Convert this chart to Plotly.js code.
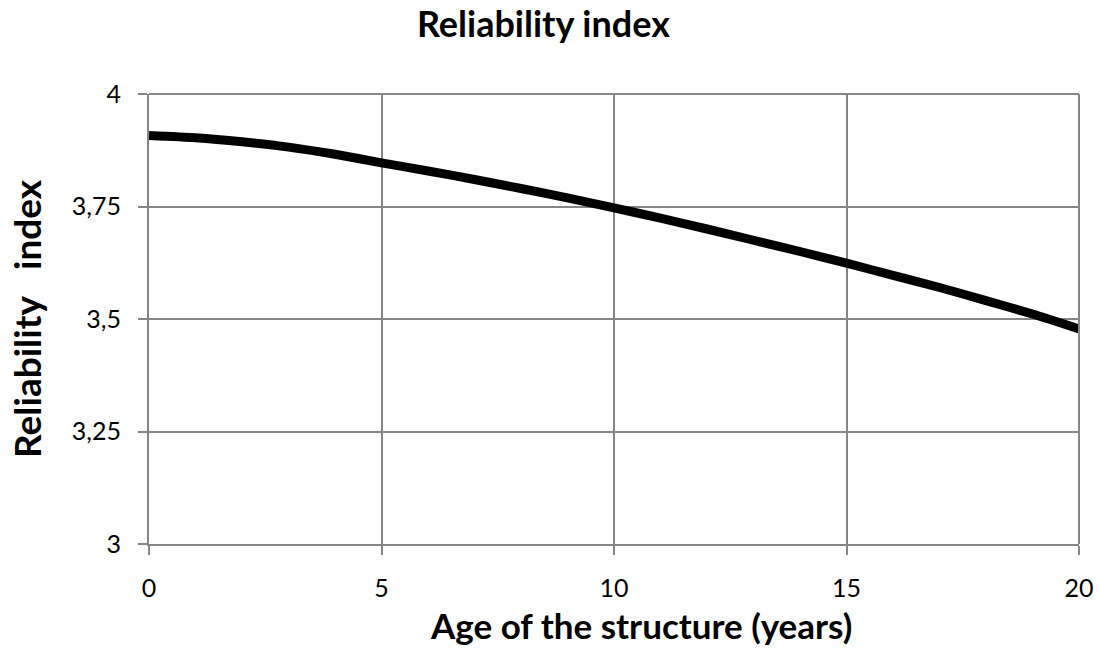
<!DOCTYPE html>
<html>
<head>
<meta charset="utf-8">
<script src="https://cdn.plot.ly/plotly-3.0.1.min.js"></script>
<style>html,body{margin:0;padding:0;background:#fff;}#chart{width:1100px;height:654px;}</style>
</head>
<body>
<div id="chart"></div>
<script>
const ageYears = [0,1,2,3,4,5,6,7,8,9,10,11,12,13,14,15,16,17,18,19,20];
const reliabilityIndex = [3.908,3.903,3.894,3.882,3.866,3.847,3.829,3.810,3.790,3.769,3.747,3.724,3.700,3.675,3.650,3.624,3.597,3.570,3.541,3.511,3.478];
const chartTitle = "Reliability index";
const xTitle = "Age of the structure (years)";
const yTitle = "Reliability\u00a0\u00a0\u00a0index";

const fontFam = "Lato, 'Open Sans', sans-serif";
const trace = {
  x: ageYears, y: reliabilityIndex, type: 'scatter', mode: 'lines',
  line: {color: '#000000', width: 9, shape: 'spline', smoothing: 0.6},
  cliponaxis: true, showlegend: false, hoverinfo: 'skip'
};
const layout = {
  width: 1100, height: 654,
  margin: {l: 149, r: 21, t: 93.5, b: 110},
  paper_bgcolor: '#ffffff', plot_bgcolor: '#ffffff',
  separators: ', ',
  font: {family: fontFam, color: '#000000', size: 25},
  title: {text: '<b>' + chartTitle + '</b>', x: 0.494, xanchor: 'center', y: 0.962, yanchor: 'middle', font: {size: 36, family: fontFam}},
  xaxis: {
    range: [0, 20], dtick: 5, tick0: 0, showgrid: true, gridcolor: '#868686', gridwidth: 2,
    showline: true, linecolor: '#868686', linewidth: 2, mirror: false,
    ticks: 'outside', ticklen: 9, tickwidth: 2, tickcolor: '#868686',
    ticklabelstandoff: 12,
    tickfont: {size: 25, family: fontFam}, zeroline: false
  },
  yaxis: {
    range: [3, 4], dtick: 0.25, tick0: 3, showgrid: true, gridcolor: '#868686', gridwidth: 2,
    showline: true, linecolor: '#868686', linewidth: 2,
    ticks: 'outside', ticklen: 9, tickwidth: 2, tickcolor: '#868686',
    ticklabelstandoff: 12,
    tickfont: {size: 25, family: fontFam}, zeroline: false,
    title: {text: '<b>' + yTitle + '</b>', font: {size: 37, family: fontFam}, standoff: 19}
  },
  annotations: [
    {text: '<b>' + xTitle + '</b>', xref: 'paper', yref: 'paper', x: 0.529, y: -0.180,
     xanchor: 'center', yanchor: 'middle', showarrow: false, font: {size: 35, family: fontFam, color: '#000000'}}
  ],
  shapes: [
    {type: 'line', xref: 'paper', yref: 'paper', x0: 1, x1: 1, y0: 0, y1: 1, line: {color: '#868686', width: 2}},
    {type: 'line', xref: 'paper', yref: 'paper', x0: 0, x1: 1, y0: 1, y1: 1, line: {color: '#868686', width: 2}}
  ]
};
Plotly.newPlot('chart', [trace], layout, {staticPlot: true, displayModeBar: false});
</script>
</body>
</html>
